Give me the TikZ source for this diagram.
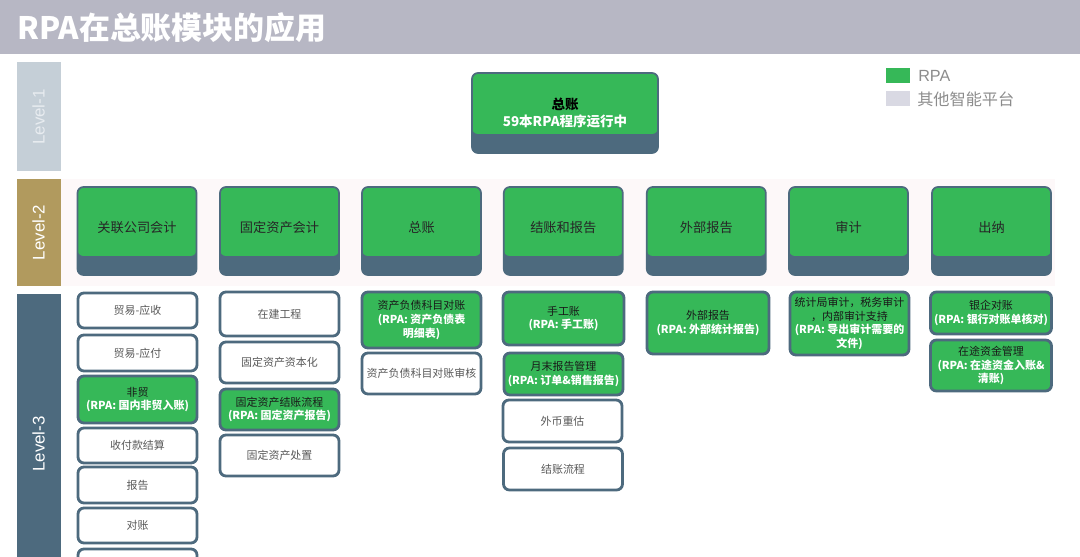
\documentclass[tikz,border=0pt]{standalone}
\usepackage{fontspec}
\setmainfont{Noto Sans CJK SC}
\newfontfamily\lvfont{Liberation Sans}

\definecolor{header}{RGB}{183,183,196}
\definecolor{rpagreen}{RGB}{54,184,88}
\definecolor{slate}{RGB}{77,106,126}
\definecolor{lvone}{RGB}{197,207,215}
\definecolor{lvonetxt}{RGB}{232,236,240}
\definecolor{lvtwo}{RGB}{177,154,94}
\definecolor{pinkbg}{RGB}{253,248,249}
\definecolor{lavender}{RGB}{217,217,227}
\definecolor{legtxt}{RGB}{140,140,140}

\newcommand{\pxu}{0.025cm}
\newcommand{\rpa}[1]{\textcolor{white}{\bfseries #1}}

\begin{document}
\begin{tikzpicture}[
x=0.025cm, y=-0.025cm,
every node/.style={
align=center,
inner sep=0pt
},
bar/.style={
minimum width=44*\pxu,
text=white,
font=\lvfont\fontsize{12}{12}\selectfont
},
twotone/.style={
draw=slate,
fill=slate,
line width=1.2pt,
rounded corners=0.15cm,
path picture={\fill[rpagreen] (path picture bounding box.north west) rectangle ([yshift=19*\pxu]path picture bounding box.south east);}
},
ltwo/.style={
twotone,
minimum width=119*\pxu,
minimum height=88*\pxu,
text height=8.3pt,
text depth=6.8pt,
text=black!85,
font=\fontsize{9.4}{11}\selectfont
},
lthree/.style={
draw=slate,
fill=white,
line width=2pt,
rounded corners=0.15cm,
minimum width=119*\pxu,
text=black!65,
font=\fontsize{7.8}{9.8}\selectfont
},
rpabox/.style={
lthree,
fill=rpagreen,
text=black!90
},
legend/.style={
minimum width=24*\pxu,
minimum height=15*\pxu
}
]

\useasboundingbox (0,0) rectangle (1080,557);

% title bar
\node[fill=header, anchor=north west, minimum width=1080*\pxu, minimum height=54*\pxu] (head) at (0,0) {};
\node[anchor=west, text=white, font=\bfseries\fontsize{22}{22}\selectfont] (title) at (17,27.5)
{RPA在总账模块的应用};

% level bars
\node[fill=pinkbg, minimum width=995*\pxu, minimum height=107*\pxu] (row2) at (557.5,232.5) {};

\node[bar, fill=lvone, text=lvonetxt, minimum height=109*\pxu] (lv1) at (38.5,117)
{\rotatebox{90}{Level-1}};
\node[bar, fill=lvtwo, minimum height=107*\pxu] (lv2) at (38.5,232.5)
{\rotatebox{90}{Level-2}};
\node[bar, fill=slate, minimum height=300*\pxu] (lv3) at (38.5,444)
{\rotatebox{90}{Level-3}};

% legend
\node[legend, fill=rpagreen] (legrpa) at (898,75.5) {};
\node[anchor=west, text=legtxt, font=\lvfont\fontsize{11.5}{12}\selectfont] (legrpatxt) at (918,75.5)
{RPA};
\node[legend, fill=lavender] (legoth) at (898,99) {};
\node[anchor=west, text=legtxt, font=\fontsize{11.5}{12}\selectfont] (legothtxt) at (917,99)
{其他智能平台};

% level 1
\node[twotone, minimum width=186*\pxu, minimum height=80*\pxu, font=\bfseries\fontsize{9.6}{12}\selectfont] (gl) at (565,113)
{总账\\\textcolor{white}{59本RPA程序运行中}};

% level 2
\node[ltwo] (ic) at (137,231)
{关联公司会计};
\node[ltwo] (fa) at (279.5,231)
{固定资产会计};
\node[ltwo] (zz) at (421.5,231)
{总账};
\node[ltwo] (cr) at (563.3,231)
{结账和报告};
\node[ltwo] (er) at (706.3,231)
{外部报告};
\node[ltwo] (au) at (848.5,231)
{审计};
\node[ltwo] (ca) at (991.5,231)
{出纳};

% level 3 - 关联公司会计
\node[lthree, minimum height=35*\pxu] (ic1) at (137.5,310.5)
{贸易-应收};
\node[lthree, minimum height=36*\pxu] (ic2) at (137.5,353)
{贸易-应付};
\node[rpabox, minimum height=47*\pxu] (ic3) at (137.5,399.5)
{非贸\\\rpa{(RPA: 国内非贸入账)}};
\node[lthree, minimum height=35*\pxu] (ic4) at (137.5,445.5)
{收付款结算};
\node[lthree, minimum height=36*\pxu] (ic5) at (137.5,485)
{报告};
\node[lthree, minimum height=35*\pxu] (ic6) at (137.5,525.5)
{对账};
\node[lthree, minimum height=36*\pxu] (ic7) at (137.5,567)
{};

% level 3 - 固定资产会计
\node[lthree, minimum height=44*\pxu] (fa1) at (279.5,314)
{在建工程};
\node[lthree, minimum height=41*\pxu] (fa2) at (279.5,362.5)
{固定资产资本化};
\node[rpabox, minimum height=41*\pxu] (fa3) at (279.5,409.5)
{固定资产结账流程\\\rpa{(RPA: 固定资产报告)}};
\node[lthree, minimum height=41*\pxu] (fa4) at (279.5,455.5)
{固定资产处置};

% level 3 - 总账
\node[rpabox, minimum height=56*\pxu] (zz1) at (421.5,320)
{资产负债科目对账\\\rpa{(RPA: 资产负债表}\\\rpa{明细表)}};
\node[lthree, minimum height=41*\pxu] (zz2) at (421.5,373.5)
{资产负债科目对账审核};

% level 3 - 结账和报告
\node[rpabox, minimum width=121*\pxu, minimum height=53*\pxu] (cr1) at (563.5,318.5)
{手工账\\\rpa{(RPA: 手工账)}};
\node[rpabox, minimum height=42*\pxu] (cr2) at (563.5,374)
{月末报告管理\\\rpa{(RPA: 订单\&销售报告)}};
\node[lthree, minimum height=42*\pxu] (cr3) at (562.5,421)
{外币重估};
\node[lthree, minimum height=42*\pxu] (cr4) at (563,469)
{结账流程};

% level 3 - 外部报告 / 审计 / 出纳
\node[rpabox, minimum width=122*\pxu, minimum height=62*\pxu] (er1) at (708,323)
{外部报告\\\rpa{(RPA: 外部统计报告)}};
\node[rpabox, minimum height=63*\pxu] (au1) at (849.5,323.5)
{统计局审计，税务审计\\，内部审计支持\\\rpa{(RPA: 导出审计需要的}\\\rpa{文件)}};
\node[rpabox, minimum width=121*\pxu, minimum height=42*\pxu] (ca1) at (991,313)
{银企对账\\\rpa{(RPA: 银行对账单核对)}};
\node[rpabox, minimum width=121*\pxu, minimum height=51*\pxu] (ca2) at (991,365.5)
{在途资金管理\\\rpa{(RPA: 在途资金入账\&}\\\rpa{清账)}};

\end{tikzpicture}
\end{document}
